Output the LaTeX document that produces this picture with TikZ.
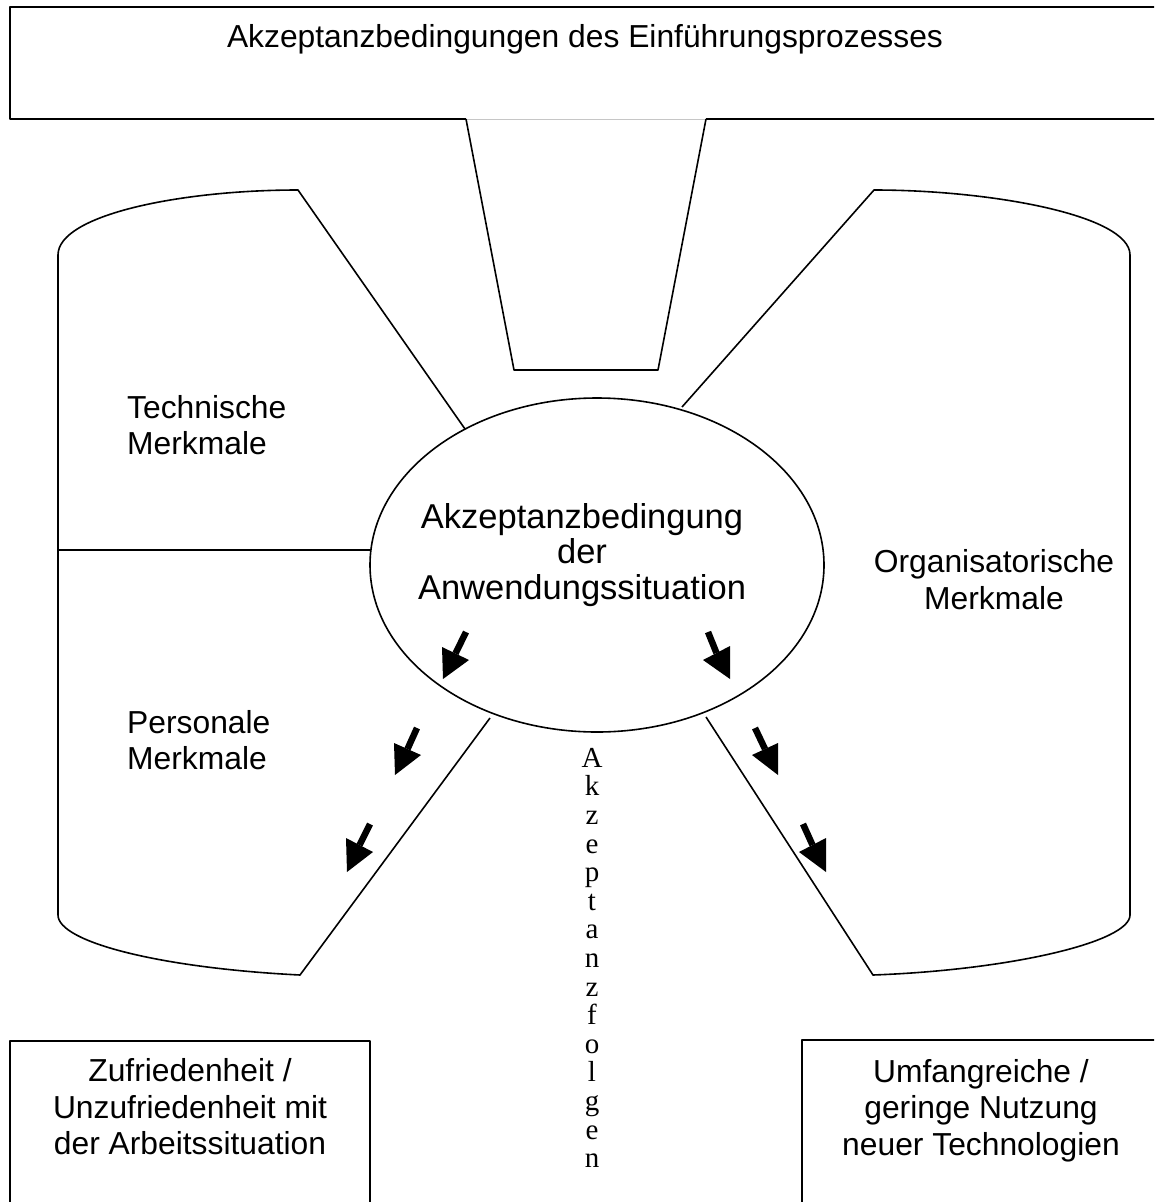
\documentclass[tikz,border=0pt]{standalone}
\usepackage{fontspec}
\setmainfont{Liberation Sans}
\newfontfamily\vertfont{Liberation Serif}
\usetikzlibrary{shapes.geometric}

\begin{document}
\begin{tikzpicture}[x=1pt,y=-1pt,line join=round,
  outline/.style={line width=1.6pt},
  lbl/.style={inner sep=0pt,font=\fontsize{31.8}{36.6}\selectfont},
  shaft/.style={line width=6.5pt},
  head/.style={fill=black}]
\useasboundingbox (0,0) rectangle (1154,1202);
\clip (0,0) rectangle (1154,1202);

% header box with the funnel opening in its lower edge
\draw[outline] (466,119) -- (10,119) -- (10,7) -- (1170,7) -- (1170,119) -- (706,119);
\draw[gray!45,line width=1pt] (466,119) -- (706,119);
\node[lbl,anchor=base] (title) at (585,47) {Akzeptanzbedingungen des Einführungsprozesses};

% funnel
\draw[outline] (466,119) -- (514,370) -- (658,370) -- (706,119);

% central ellipse
\node[draw,outline,ellipse,minimum width=454pt,minimum height=334pt,inner sep=0pt] (sit) at (597,565) {};
\node[inner sep=0pt,font=\fontsize{34.5}{35.5}\selectfont,align=center,anchor=north] (sittext) at (582,503) {Akzeptanzbedingung\\der\\Anwendungssituation};

% left barrel half
\draw[outline] (465,429) -- (298,190)
  .. controls (180,190) and (58,215) .. (58,255)
  -- (58,915)
  .. controls (58,942) and (160,968) .. (300,975)
  -- (490,718);
\coordinate (divL) at (58,550);
\coordinate (divR) at (371,550);
\draw[outline] (divL) -- (divR);
\node[lbl,align=left,anchor=north west] (tech) at (127,395) {Technische\\Merkmale};
\node[lbl,align=left,anchor=north west] (pers) at (127,710) {Personale\\Merkmale};

% right barrel half
\draw[outline] (682,407) -- (874,190)
  .. controls (990,190) and (1130,215) .. (1130,255)
  -- (1130,915)
  .. controls (1130,942) and (1010,970) .. (873,975)
  -- (706,717);
\node[lbl,align=center,anchor=north] (orga) at (994,549.5) {Organisatorische\\Merkmale};

% outcome boxes
\draw[outline] (10,1210) -- (10,1041) -- (370,1041) -- (370,1210);
\node[lbl,align=center,anchor=north] (zuf) at (190,1058.5) {Zufriedenheit /\\Unzufriedenheit mit\\der Arbeitssituation};
\draw[outline] (802,1210) -- (802,1040) -- (1170,1040);
\node[lbl,align=center,anchor=north] (nutz) at (981,1059) {Umfangreiche /\\geringe Nutzung\\neuer Technologien};

% vertical caption
\node[inner sep=0pt,align=center,anchor=north,font=\vertfont\fontsize{29}{28.6}\selectfont] (folgen) at (592,748)
  {A\\k\\z\\e\\p\\t\\a\\n\\z\\f\\o\\l\\g\\e\\n};

% effect arrows: shaft, then a filled triangular head
\draw[shaft] (466,632) -- (455.5,653.5);
\fill[head] (442,647) -- (469,660) -- (443,679) -- cycle;
\draw[shaft] (708,632) -- (716.5,653);
\fill[head] (703,660) -- (730,646) -- (730,679) -- cycle;
\draw[shaft] (417,728) -- (407.5,749);
\fill[head] (394,743) -- (421,755) -- (395,775) -- cycle;
\draw[shaft] (755,728) -- (765,749);
\fill[head] (752,755) -- (778,743) -- (778,775) -- cycle;
\draw[shaft] (370,824) -- (359.5,845);
\fill[head] (346,838) -- (373,852) -- (347,872) -- cycle;
\draw[shaft] (803,824) -- (812.5,845);
\fill[head] (799,852) -- (826,838) -- (826,872) -- cycle;
\end{tikzpicture}
\end{document}
